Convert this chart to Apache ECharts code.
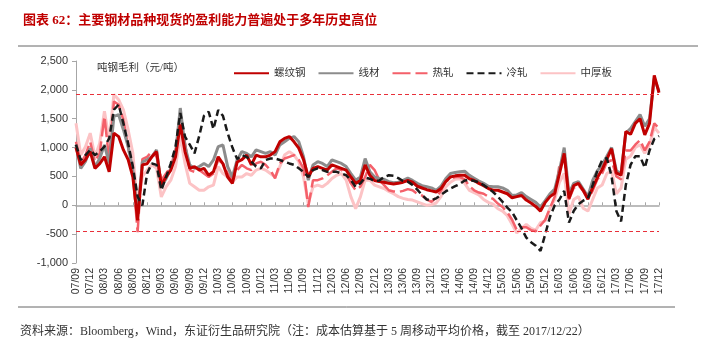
<!DOCTYPE html>
<html><head><meta charset="utf-8">
<script src="https://cdn.jsdelivr.net/npm/echarts@6.0.0/dist/echarts.min.js"></script>
<style>html,body{margin:0;padding:0;background:#fff;}#c{width:716px;height:360px;}</style>
</head><body><div id="c"></div>
<script>
// Monthly categories 2007/09 .. 2017/12 (labels shown every quarter)
const startYear = 2007, startMonth = 9, monthCount = 124;
const categories = [];
for (let i = 0; i < monthCount; i++) {
  const m0 = startMonth - 1 + i;
  const y = startYear + Math.floor(m0 / 12);
  const m = (m0 % 12) + 1;
  categories.push(String(y % 100).padStart(2, '0') + '/' + String(m).padStart(2, '0'));
}
const seriesNames = ['螺纹钢', '线材', '热轧', '冷轧', '中厚板'];
const rebar = [
 1000,700,790,930,640,720,840,580,1250,1190,960,790,
 490,-260,700,720,840,930,350,490,610,840,1400,930,
 640,670,610,640,520,580,840,720,490,380,750,790,
 870,700,870,840,840,870,930,1100,1160,1190,1100,990,
 790,490,640,670,640,610,700,670,640,610,490,380,
 430,700,520,430,410,400,380,370,380,400,430,400,
 330,300,270,250,230,290,410,490,510,520,520,460,
 430,380,340,290,260,260,230,200,130,150,170,90,
 40,-20,-100,50,150,210,550,900,120,340,380,260,
 110,300,480,620,800,980,560,520,1280,1230,1420,1500,
 1220,1420,2250,1950];
const wire = [
 1050,640,760,990,660,810,1045,725,1540,1570,1310,1015,
 610,-145,750,790,840,960,320,460,640,900,1685,1015,
 700,640,670,725,670,785,1015,1045,670,490,785,930,
 900,840,960,930,900,930,870,1045,1100,1160,1190,1100,
 840,435,700,755,725,670,785,755,725,670,550,435,
 490,810,580,490,465,450,410,390,400,430,470,430,
 380,340,320,300,260,330,460,550,570,580,590,520,
 470,420,380,330,320,320,300,260,170,180,220,150,
 100,50,-30,80,200,280,600,1000,200,380,410,280,
 150,430,600,700,850,1000,600,550,1250,1330,1450,1570,
 1370,1500,2200,1980];
const hotRolled = [
 1100,730,870,1100,760,900,1540,785,1800,1740,1480,1015,
 550,-465,800,840,930,840,435,550,670,960,1540,1075,
 610,580,610,550,490,550,785,725,550,435,610,700,
 640,610,725,755,700,610,465,725,810,840,870,785,
 640,-30,435,435,465,520,580,640,610,550,380,260,
 320,490,700,610,435,350,260,240,230,250,280,260,
 200,170,100,60,130,250,420,460,490,490,450,330,
 260,220,200,150,110,30,-30,-120,-250,-430,-380,-380,
 -430,-450,-350,-250,-50,150,700,850,100,300,350,250,
 100,250,450,550,750,780,500,450,950,950,1050,1130,
 950,1100,1420,1330];
const coldRolled = [
 1050,785,870,960,870,930,1015,1160,1655,1745,1420,1075,
 670,150,0,550,725,700,260,490,725,1015,1600,1190,
 1050,900,1200,1550,1620,1320,1650,1550,1250,1000,800,870,
 840,755,670,640,785,810,810,785,755,725,700,640,
 580,490,610,640,610,580,580,580,550,520,435,320,
 380,480,460,420,430,490,520,510,470,420,410,350,
 270,180,100,90,120,180,240,290,330,370,430,440,
 420,400,350,290,230,150,60,-40,-120,-260,-400,-560,
 -640,-700,-790,-500,-200,0,100,250,-300,-100,20,80,
 120,350,600,780,820,500,-100,-280,350,700,850,850,
 650,950,1150,1200];
const plate = [
 1420,870,1015,1250,840,1075,1630,1130,1920,1830,1655,1310,
 900,-30,500,610,700,640,145,320,435,670,1190,725,
 380,320,260,260,320,350,670,550,490,405,490,490,
 550,520,610,640,610,550,490,670,870,930,870,755,
 490,30,320,350,320,380,465,520,550,435,145,-58,
 145,435,435,350,320,290,240,200,150,120,100,90,
 60,30,0,10,40,150,320,400,450,460,380,260,
 220,180,100,50,20,-60,-100,-180,-330,-480,-400,-330,
 -400,-430,-300,-270,-50,100,400,550,-150,100,150,-50,
 -100,100,300,350,550,600,200,300,800,850,1000,1050,
 900,1050,1350,1250];
const refLines = [1920, -450];
const yTicks = {min: -1000, max: 2500, step: 500};

const titleText = '图表 62：主要钢材品种现货的盈利能力普遍处于多年历史高位';
const unitText = '吨钢毛利（元/吨）';
const sourceText = '资料来源：Bloomberg，Wind，东证衍生品研究院（注：成本估算基于 5 周移动平均价格，截至 2017/12/22）';

const CJK = '"Liberation Serif","Noto Sans CJK SC",serif';
const colors = {'螺纹钢':'#C00000','线材':'#8C8C8C','热轧':'#F4606A','冷轧':'#1A1A1A','中厚板':'#FCC3C5'};
const dataMap = {'螺纹钢':rebar,'线材':wire,'热轧':hotRolled,'冷轧':coldRolled,'中厚板':plate};
const styleMap = {
  '螺纹钢':{width:3,type:'solid'},
  '线材':{width:3,type:'solid'},
  '热轧':{width:2.5,type:[18,5]},
  '冷轧':{width:2.5,type:[7,4]},
  '中厚板':{width:3,type:'solid'}
};
const drawOrder = ['中厚板','热轧','线材','螺纹钢','冷轧'];
const series = drawOrder.map(function(n){
  return {
    name:n, type:'line', data:dataMap[n], xAxisIndex:0, yAxisIndex:0,
    symbol:'none', showSymbol:false, smooth:false,
    lineStyle:{color:colors[n], width:styleMap[n].width, type:styleMap[n].type},
    itemStyle:{color:colors[n]}, z: 2
  };
});
series.push({
  name:'ref', type:'line', data:[], xAxisIndex:0, yAxisIndex:0, symbol:'none',
  markLine:{silent:true, symbol:['none','none'], label:{show:false},
    lineStyle:{color:'#E8303A', width:1, type:[4,3]},
    data: refLines.map(function(v){return {yAxis:v};})}
});

const chart = echarts.init(document.getElementById('c'), null, {renderer:'canvas'});
chart.setOption({
  animation:false,
  backgroundColor:'#ffffff',
  title:{text:titleText, left:18, top:9,
    textStyle:{color:'#C00000', fontSize:13, fontWeight:'bold', fontFamily:CJK}},
  legend:{data:seriesNames, left:228, top:63, itemWidth:35, itemHeight:10, itemGap:12,
    itemStyle:{opacity:0},
    textStyle:{fontSize:10.5, color:'#333', fontFamily:CJK}},
  grid:{left:76, right:57, top:61, bottom:97, containLabel:false},
  xAxis:[
    {type:'category', data:categories, boundaryGap:false, position:'bottom',
     axisLine:{show:true, onZero:true, lineStyle:{color:'#A6A6A6', width:1.5}},
     axisTick:{show:true, inside:true, interval:2, length:3, lineStyle:{color:'#A6A6A6'}},
     axisLabel:{show:false}, splitLine:{show:false}},
    {type:'category', data:categories, boundaryGap:false, position:'bottom',
     axisLine:{show:false, onZero:false}, axisTick:{show:false},
     axisLabel:{show:true, interval:2, rotate:90, fontSize:10.5, color:'#333',
       fontFamily:'"Liberation Sans",Arial,sans-serif', margin:5},
     splitLine:{show:false}}
  ],
  yAxis:{type:'value', min:yTicks.min, max:yTicks.max, interval:yTicks.step,
    axisLine:{show:true, lineStyle:{color:'#A6A6A6', width:1}},
    axisTick:{show:true, inside:false, length:4, lineStyle:{color:'#A6A6A6'}},
    splitLine:{show:false},
    axisLabel:{fontSize:11, color:'#333', margin:8, fontFamily:'"Liberation Sans",Arial,sans-serif',
      formatter:function(v){return v.toLocaleString('en-US');}}},
  graphic:[
    {type:'line', shape:{x1:18,y1:46,x2:698,y2:46}, style:{stroke:'#666',lineWidth:1}},
    {type:'line', shape:{x1:18,y1:307,x2:675,y2:307}, style:{stroke:'#666',lineWidth:1}},
    {type:'text', left:97, top:63, style:{text:unitText, fill:'#333', font:'10.5px '+CJK}},
    {type:'text', left:20, top:326, style:{text:sourceText, fill:'#333', font:'12px '+CJK}}
  ],
  series:series
});
</script></body></html>
